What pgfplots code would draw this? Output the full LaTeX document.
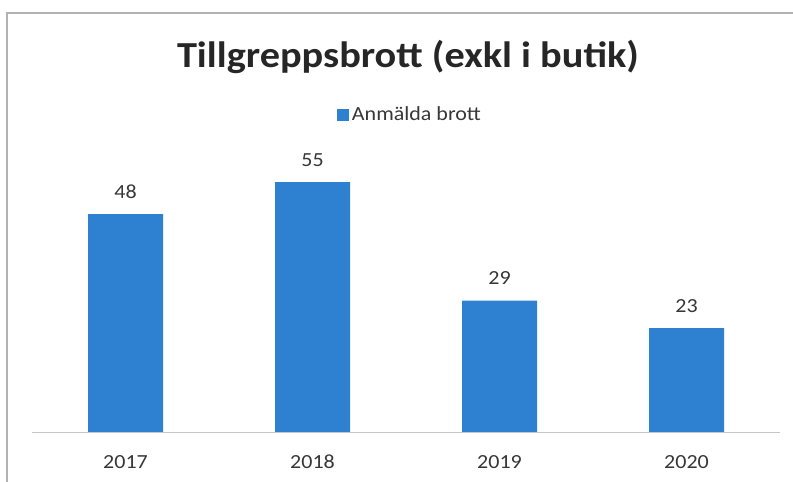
\documentclass[border=0pt]{standalone}
\usepackage{fontspec}
\setmainfont[FakeStretch=1.1]{Carlito}
\usepackage{pgfplots}
\pgfplotsset{compat=1.18}
\definecolor{barblue}{RGB}{46,128,208}
\definecolor{txt}{RGB}{55,55,55}
\begin{document}
\begin{tikzpicture}
\begin{scope}[x=0.75pt,y=0.75pt]
\path[use as bounding box] (0,0) rectangle (793,482);
\fill[white] (0,0) rectangle (793,482);
% frame of the chart area (only left and top edges visible)
\draw[gray!60, line width=1.1pt] (7,0) -- (7,469) -- (793,469);
\node[anchor=base, font=\bfseries\fontsize{27.5}{30}\selectfont, text=black!85] at (408,414) {Tillgreppsbrott (exkl i butik)};
\end{scope}
\begin{axis}[
  at={(24pt,36.75pt)}, anchor=south west,
  scale only axis, width=561pt, height=205.3pt,
  xmin=-0.5, xmax=3.5, ymin=0, ymax=60,
  axis x line=bottom, axis y line=none,
  axis line style={draw=none},
  xtick={0,1,2,3}, xticklabels={2017,2018,2019,2020},
  major tick length=0pt,
  xticklabel style={anchor=base, yshift=-27pt, font=\fontsize{15}{18}\selectfont, text=txt},
  ybar, bar width=56.25pt,
  /pgf/number format/assume math mode=true,
  nodes near coords,
  every node near coord/.append style={anchor=base, yshift=12pt, font=\fontsize{15}{18}\selectfont, text=txt},
  legend style={at={(0.4078,1.163)}, anchor=west, draw=none, fill=none,
    font=\fontsize{15}{17}\selectfont, text=txt, inner sep=0pt},
  legend image code/.code={\fill[barblue] (-1pt,-4.5pt) rectangle (8pt,4.5pt);},
]
\addplot[fill=barblue, draw=none] coordinates {(0,48) (1,55) (2,29) (3,23)};
\addlegendentry{Anmälda brott}
\draw[gray!45, line width=0.8pt] (axis cs:-0.5,0) -- (axis cs:3.5,0);
\end{axis}
\end{tikzpicture}
\end{document}
